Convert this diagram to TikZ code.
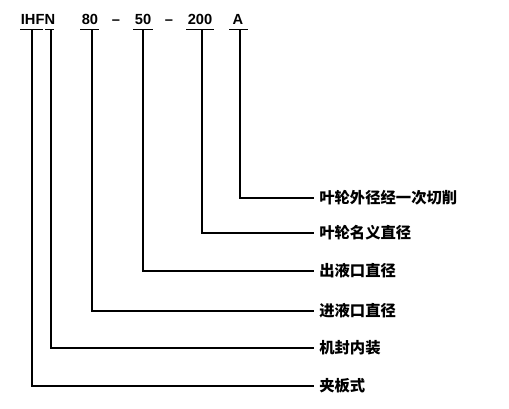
\documentclass[tikz,border=0pt]{standalone}
\usepackage{fontspec}
\setmainfont{Liberation Sans}
\newfontfamily\cjk{Noto Sans CJK SC}
\usetikzlibrary{positioning}

\tikzset{
  code/.style={font=\fontsize{11}{13}\selectfont\bfseries,inner sep=0pt,anchor=base},
  lbl/.style={font=\fontsize{11.5}{13}\selectfont\cjk\bfseries,inner sep=0pt,anchor=west},
  bar/.style={line width=1pt},
  lead/.style={line width=1pt}
}

\begin{document}
\begin{tikzpicture}[x=0.75pt,y=-0.75pt]
  \useasboundingbox (0,0) rectangle (509,409);
  % model code
  \node[code] (ihfn) at (38,25) {IHFN};
  \node[code] (d80) at (90,25) {80};
  \node[code] (s1) at (116,25) {--};
  \node[code] (d50) at (143,25) {50};
  \node[code] (s2) at (169,25) {--};
  \node[code] (d200) at (200,25) {200};
  \node[code] (a) at (238,25) {A};
  % underlines
  \draw[bar] (20,29.5) -- (43,29.5);
  \draw[bar] (45,29.5) -- (54,29.5);
  \draw[bar] (80,29.5) -- (99,29.5);
  \draw[bar] (133,29.5) -- (153,29.5);
  \draw[bar] (186,29.5) -- (214,29.5);
  \draw[bar] (229,29.5) -- (248,29.5);
  \coordinate (tihf) at (32,29.5);
  \coordinate (tn) at (51,29.5);
  \coordinate (t80) at (92,29.5);
  \coordinate (t50) at (143,29.5);
  \coordinate (t200) at (202,29.5);
  \coordinate (ta) at (240,29.5);
  % meanings
  \node[lbl] (cut) at (319,198) {叶轮外径经一次切削};
  \node[lbl] (imp) at (319,233) {叶轮名义直径};
  \node[lbl] (out) at (319,271) {出液口直径};
  \node[lbl] (inl) at (319,311) {进液口直径};
  \node[lbl] (seal) at (319,348) {机封内装};
  \node[lbl] (clamp) at (319,386) {夹板式};
  % leaders
  \draw[lead] (ta) |- ([xshift=-4pt]cut.west);
  \draw[lead] (t200) |- ([xshift=-4pt]imp.west);
  \draw[lead] (t50) |- ([xshift=-4pt]out.west);
  \draw[lead] (t80) |- ([xshift=-4pt]inl.west);
  \draw[lead] (tn) |- ([xshift=-4pt]seal.west);
  \draw[lead] (tihf) |- ([xshift=-4pt]clamp.west);
\end{tikzpicture}
\end{document}
